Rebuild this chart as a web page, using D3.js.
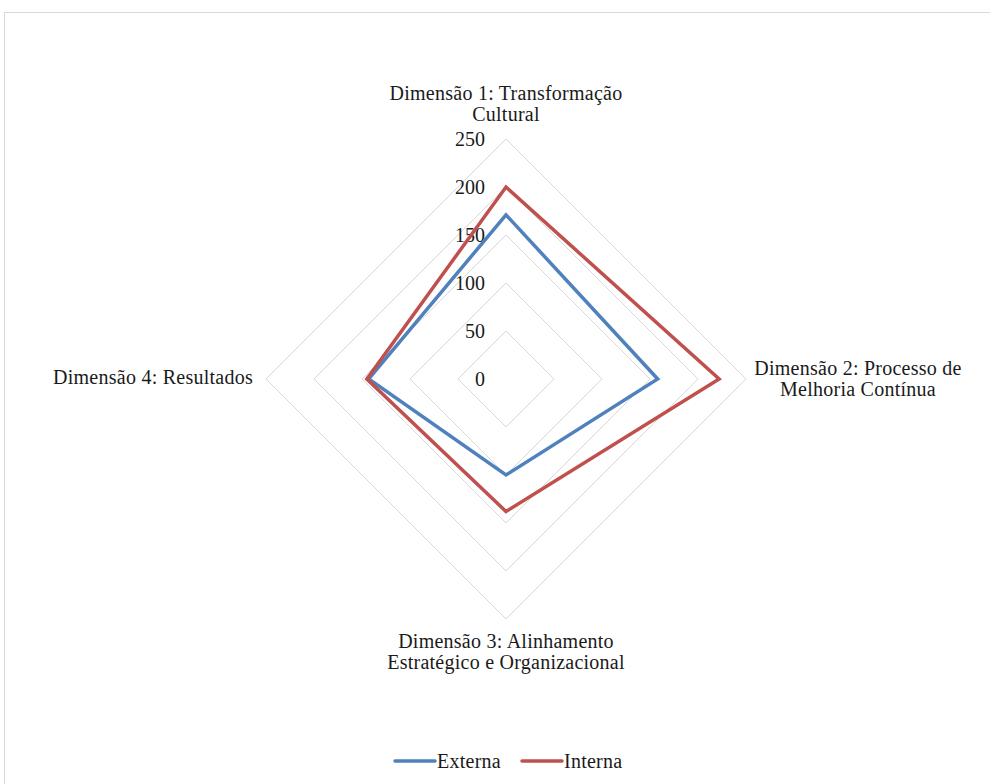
<!DOCTYPE html>
<html>
<head>
<meta charset="utf-8">
<script src="https://cdn.jsdelivr.net/npm/d3@7"></script>
<style>
  body { margin: 0; background: #fff; }
  svg { display: block; }
  text { font-family: "Liberation Serif", "Times New Roman", serif; fill: #1a1a1a; }
</style>
</head>
<body>
<svg id="radar_svg" width="990" height="784"></svg>
<script>
// data
const dimensions = [
  ["Dimensão 1: Transformação", "Cultural"],
  ["Dimensão 2: Processo de", "Melhoria Contínua"],
  ["Dimensão 3: Alinhamento", "Estratégico e Organizacional"],
  ["Dimensão 4: Resultados"]
]
const externa = [171, 158, 100, 143]
const interna = [200, 222, 138, 145]
const seriesNames = ["Externa", "Interna"]
const seriesColors = ["#4f81bd", "#c0504d"]
const tickValues = [0, 50, 100, 150, 200, 250]

const svg = d3.select("#radar_svg")
const width = 990
const height = 784

// chart frame
svg.append("rect")
  .attr("x", 4.5).attr("y", 12.5)
  .attr("width", width + 10).attr("height", height + 10)
  .attr("fill", "none").attr("stroke", "#d9d9d9")

const cx = 506
const cy = 379
const rScale = d3.scaleLinear().domain([0, 250]).range([0, 240])

// angle for each axis, starting at the top, clockwise
const angle = (i) => (i / dimensions.length) * 2 * Math.PI
const pt = (v, i) => [cx + rScale(v) * Math.sin(angle(i)), cy - rScale(v) * Math.cos(angle(i))]

/**
 * Grid rings
 */
const g_grid = svg.append("g").attr("class", "grid")
g_grid.selectAll("polygon")
  .data(tickValues.filter((d) => d > 0))
  .enter()
  .append("polygon")
  .attr("points", (t) => dimensions.map((d, i) => pt(t, i).join(",")).join(" "))
  .attr("fill", "none")
  .attr("stroke", "#d9d9d9")
  .attr("stroke-width", 1)

/**
 * Tick labels along the first axis
 */
svg.append("g").attr("class", "ticks")
  .selectAll("text")
  .data(tickValues)
  .enter()
  .append("text")
  .attr("x", cx - 21)
  .attr("y", (d) => cy - rScale(d))
  .attr("dy", "0.35em")
  .attr("text-anchor", "end")
  .attr("font-size", 20)
  .text((d) => d)

/**
 * Series lines
 */
const line = d3.line().curve(d3.curveLinearClosed)
const series = [externa, interna]
svg.append("g").attr("class", "series")
  .selectAll("path")
  .data(series)
  .enter()
  .append("path")
  .attr("d", (vals) => line(vals.map((v, i) => pt(v, i))))
  .attr("fill", "none")
  .attr("stroke", (d, i) => seriesColors[i])
  .attr("stroke-width", 3.5)
  .attr("stroke-linejoin", "miter")

/**
 * Axis labels
 */
const labelPos = [
  { x: cx, y: 100, anchor: "middle" },
  { x: 858, y: 375, anchor: "middle" },
  { x: cx, y: 648, anchor: "middle" },
  { x: 253, y: 384, anchor: "end" }
]
const g_labels = svg.append("g").attr("class", "labels")
dimensions.forEach((lines, i) => {
  const t = g_labels.append("text")
    .attr("x", labelPos[i].x)
    .attr("y", labelPos[i].y)
    .attr("text-anchor", labelPos[i].anchor)
    .attr("font-size", 20)
    .attr("letter-spacing", 0.25)
  t.selectAll("tspan")
    .data(lines)
    .enter()
    .append("tspan")
    .attr("x", labelPos[i].x)
    .attr("dy", (d, j) => (j === 0 ? 0 : 21))
    .text((d) => d)
})

/**
 * Legend
 */
const legendX = [395, 522]
const legend = svg.append("g").attr("class", "legend")
  .selectAll("g")
  .data(seriesNames)
  .enter()
  .append("g")
  .attr("transform", (d, i) => `translate(${legendX[i]},761)`)
legend.append("line")
  .attr("x1", 0).attr("x2", 40)
  .attr("stroke", (d, i) => seriesColors[i])
  .attr("stroke-width", 3.5)
  .attr("stroke-linecap", "round")
legend.append("text")
  .attr("x", 42)
  .attr("dy", "0.35em")
  .attr("font-size", 20)
  .attr("letter-spacing", 0.25)
  .text((d) => d)
</script>
</body>
</html>
